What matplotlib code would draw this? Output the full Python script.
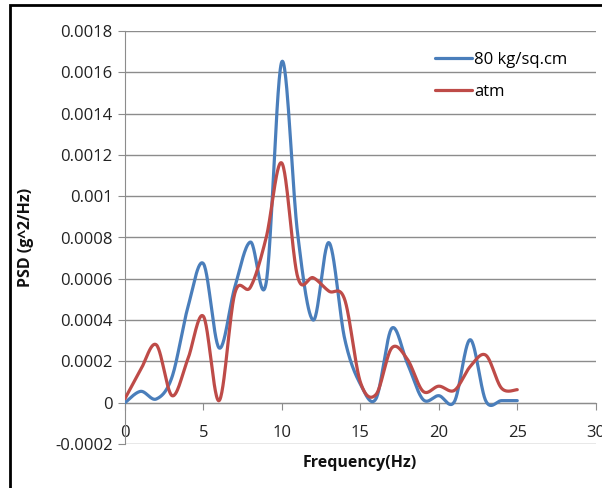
import numpy as np
import matplotlib
matplotlib.use("Agg")
import matplotlib.pyplot as plt
from matplotlib.patches import Rectangle

# data (points at every 1 Hz, Excel smoothed lines)
freq = [0, 1, 2, 3, 4, 5, 6, 7, 8, 9, 10, 11, 12, 13, 14, 15, 16, 17, 18, 19, 20, 21, 22, 23, 24, 25]
psd_80 = [0.0, 0.000055, 0.000018, 0.000125, 0.00046, 0.000673, 0.000265, 0.00056, 0.000778, 0.000582,
          0.001652, 0.00082, 0.0004, 0.000775, 0.00031, 0.00009, 0.00002, 0.00036, 0.00019, 0.000015,
          0.000034, 0.000006, 0.000305, 0.000008, 0.00001, 0.00001]
psd_atm = [0.00002, 0.00016, 0.00028, 0.000034, 0.00021, 0.000418, 0.00001, 0.00053, 0.00056, 0.0008,
           0.00116, 0.00061, 0.000605, 0.00054, 0.0005, 0.0001, 0.00004, 0.000265, 0.00021, 0.000055,
           0.00008, 0.00006, 0.000175, 0.00023, 0.00007, 0.000063]
series_names = ["80 kg/sq.cm", "atm"]
series_colors = ["#4A7EBB", "#BE4B48"]
y_ticks = [-0.0002, 0, 0.0002, 0.0004, 0.0006, 0.0008, 0.001, 0.0012, 0.0014, 0.0016, 0.0018]
y_tick_labels = ["-0.0002", "0", "0.0002", "0.0004", "0.0006", "0.0008", "0.001",
                 "0.0012", "0.0014", "0.0016", "0.0018"]
x_ticks = [0, 5, 10, 15, 20, 25, 30]

plt.rcParams['font.family'] = ['Open Sans', 'DejaVu Sans']


def smooth(x, y, n=30):
    """
    - Args:
        - x, y (list): data points
        - n (int): samples per segment
    - Returns:
        - xs, ys (np.ndarray): Excel-like smoothed curve (bezier, catmull-rom)
    """
    x = np.asarray(x, float)
    y = np.asarray(y, float)
    px = np.concatenate([[x[0]], x, [x[-1]]])
    py = np.concatenate([[y[0]], y, [y[-1]]])
    t = np.linspace(0, 1, n)
    xs, ys = [], []
    for i in range(1, len(px) - 2):
        p0 = np.array([px[i], py[i]])
        p3 = np.array([px[i + 1], py[i + 1]])
        c1 = p0 + (p3 - np.array([px[i - 1], py[i - 1]])) / 6
        c2 = p3 - (np.array([px[i + 2], py[i + 2]]) - p0) / 6
        b = (np.outer((1 - t) ** 3, p0) + np.outer(3 * (1 - t) ** 2 * t, c1)
             + np.outer(3 * (1 - t) * t ** 2, c2) + np.outer(t ** 3, p3))
        xs.append(b[:, 0])
        ys.append(b[:, 1])
    return np.concatenate(xs), np.concatenate(ys)


def create_graph():
    """
    - Args:
    - Returns:
    """
    W, H = 602, 488
    fig = plt.figure(figsize=(W / 100, H / 100), dpi=100)
    ax = fig.add_axes([125 / W, 1 - 444 / H, 470.7 / W, 413 / H])

    for vals, name, col in zip([psd_80, psd_atm], series_names, series_colors):
        xs, ys = smooth(freq, vals)
        ax.plot(xs, ys, color=col, lw=2.3, label=name, solid_capstyle='round', zorder=3)

    ax.set_xlim(0, 30)
    ax.set_ylim(-0.0002, 0.0018)
    ax.set_yticks(y_ticks)
    ax.set_yticklabels(y_tick_labels)
    ax.set_xticks(x_ticks)
    ax.set_xticklabels([str(v) for v in x_ticks])
    ax.yaxis.grid(True, color='#8c8c8c', lw=1.0)
    ax.set_axisbelow(True)

    for s in ['top', 'right']:
        ax.spines[s].set_visible(False)
    ax.spines['bottom'].set_position(('data', 0))
    ax.spines['bottom'].set_color('#8c8c8c')
    ax.spines['left'].set_color('#8c8c8c')
    ax.spines['bottom'].set_zorder(1)
    ax.tick_params(axis='y', length=5, color='#8c8c8c', pad=4, labelsize=12, labelcolor='#222222')
    ax.tick_params(axis='x', length=5, color='#8c8c8c', pad=11, labelsize=12, labelcolor='#222222')
    for lab in ax.get_xticklabels():
        lab.set_clip_on(False)

    fig.text(360 / W, 1 - 463 / H, "Frequency(Hz)", ha='center', va='center',
             fontsize=11.5, fontweight='bold', color='#111111')
    fig.text(26 / W, 1 - 237 / H, "PSD (g^2/Hz)", ha='center', va='center', rotation=90,
             fontsize=11.5, fontweight='bold', color='#111111')

    ax.legend(loc='upper left', bbox_to_anchor=(435 / W, 1 - 52 / H),
              bbox_transform=fig.transFigure, frameon=False, fontsize=12,
              handlelength=2.2, handletextpad=0.15, labelspacing=0.95,
              borderpad=0, borderaxespad=0)

    fig.patches.append(Rectangle((10 / W, -0.01), 1, 1 - 5 / H + 0.01, transform=fig.transFigure,
                                 fill=False, ec='black', lw=2, zorder=10))
    fig.savefig("out.png", dpi=100)


def main():
    """
    - Args:
    - Returns:
    """
    create_graph()


if __name__ == '__main__':
    main()
